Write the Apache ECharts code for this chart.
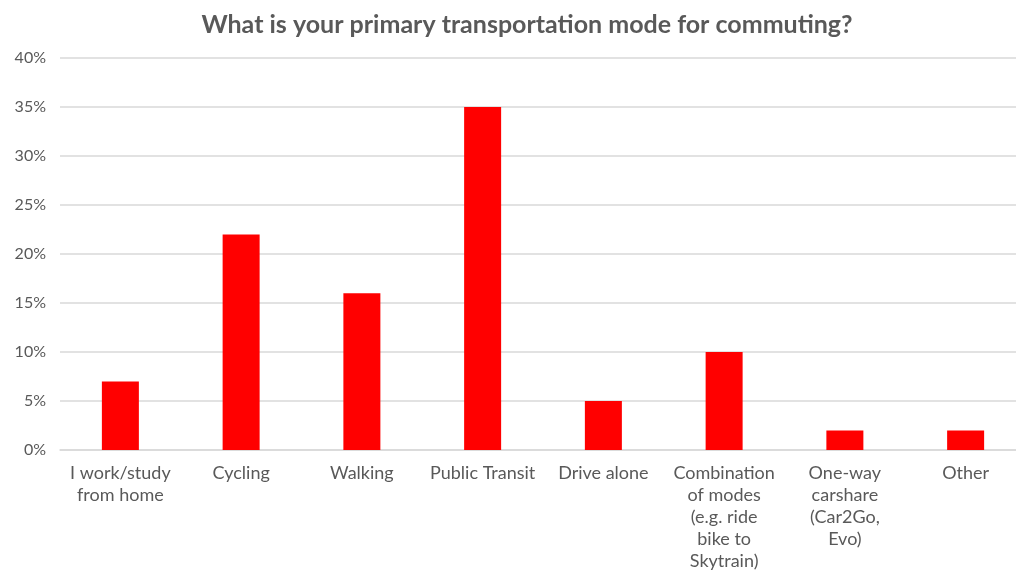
<!DOCTYPE html>
<html>
<head>
<meta charset="utf-8">
<script src="https://cdn.jsdelivr.net/npm/echarts@6/dist/echarts.min.js"></script>
<style>
html, body { margin: 0; padding: 0; background: #fff; }
#chart { width: 1016px; height: 574px; }
</style>
</head>
<body>
<div id="chart"></div>
<script>
var categories = [
    'I work/study\nfrom home',
    'Cycling',
    'Walking',
    'Public Transit',
    'Drive alone',
    'Combination\nof modes\n(e.g. ride\nbike to\nSkytrain)',
    'One-way\ncarshare\n(Car2Go,\nEvo)',
    'Other'
];
var shares = [7, 22, 16, 35, 5, 10, 2, 2];

var myChart = echarts.init(document.getElementById('chart'));
var option = {
    animation: false,
    title: {
        text: 'What is your primary transportation mode for commuting?',
        left: 522,
        textAlign: 'center',
        top: 7,
        textStyle: {
            fontFamily: 'Lato',
            fontSize: 25,
            fontWeight: 'bold',
            color: '#595959'
        }
    },
    grid: {
        left: 60,
        width: 966,
        top: 58,
        bottom: 124,
        outerBoundsMode: 'none'
    },
    xAxis: {
        type: 'category',
        data: categories,
        axisLine: { lineStyle: { color: '#d9d9d9', width: 1.5 } },
        axisTick: { show: false },
        axisLabel: {
            interval: 0,
            margin: 12,
            color: '#595959',
            fontFamily: 'Lato',
            fontSize: 18,
            lineHeight: 22
        }
    },
    yAxis: {
        type: 'value',
        min: 0,
        max: 40,
        interval: 5,
        axisLine: { show: false },
        axisTick: { show: false },
        splitLine: { lineStyle: { color: '#d9d9d9', width: 1.5 } },
        axisLabel: {
            formatter: '{value}%',
            margin: 14,
            color: '#595959',
            fontFamily: 'Lato',
            fontSize: 16
        }
    },
    series: [{
        type: 'bar',
        data: shares,
        barWidth: 37,
        itemStyle: { color: '#ff0000' }
    }]
};
myChart.setOption(option);
</script>
</body>
</html>
